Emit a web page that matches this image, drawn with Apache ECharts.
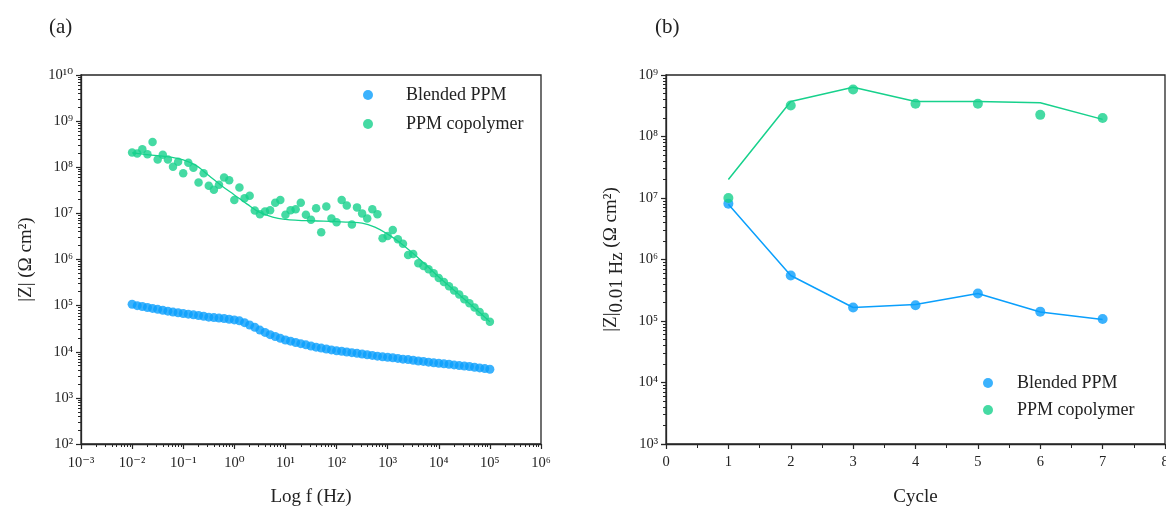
<!DOCTYPE html>
<html>
<head>
<meta charset="utf-8">
<script src="https://cdn.jsdelivr.net/npm/echarts@6/dist/echarts.min.js"></script>
<style>html,body{margin:0;padding:0;background:#fff}#c{width:1166px;height:512px}</style>
</head>
<body>
<div id="c"></div>
<script>
// ---------- Data (a): log10 values ----------
const logFreq = [-2.0,-1.9,-1.8,-1.7,-1.6,-1.5,-1.4,-1.3,-1.2,-1.1,-1.0,-0.9,-0.8,-0.7,-0.6,-0.5,-0.4,-0.3,-0.2,-0.1,
  0.0,0.1,0.2,0.3,0.4,0.5,0.6,0.7,0.8,0.9,1.0,1.1,1.2,1.3,1.4,1.5,1.6,1.7,1.8,1.9,
  2.0,2.1,2.2,2.3,2.4,2.5,2.6,2.7,2.8,2.9,3.0,3.1,3.2,3.3,3.4,3.5,3.6,3.7,3.8,3.9,
  4.0,4.1,4.2,4.3,4.4,4.5,4.6,4.7,4.8,4.9,5.0];
const blendedLogZ = [5.03,5.00,4.98,4.96,4.94,4.92,4.90,4.88,4.86,4.845,4.83,4.815,4.80,4.785,4.77,4.75,4.74,4.73,4.72,4.705,
  4.69,4.67,4.63,4.58,4.53,4.47,4.42,4.37,4.33,4.29,4.255,4.23,4.20,4.175,4.15,4.125,4.10,4.08,4.06,4.04,
  4.02,4.01,3.995,3.98,3.965,3.95,3.935,3.92,3.905,3.89,3.88,3.87,3.855,3.84,3.83,3.815,3.80,3.79,3.775,3.76,
  3.75,3.74,3.73,3.715,3.70,3.69,3.68,3.665,3.65,3.635,3.62];
const copolymerLogZ = [8.32,8.30,8.39,8.28,8.55,8.17,8.27,8.17,8.01,8.12,7.87,8.10,7.99,7.67,7.87,7.60,7.51,7.62,7.78,7.72,
  7.29,7.56,7.33,7.38,7.06,6.98,7.04,7.07,7.23,7.29,6.97,7.07,7.09,7.23,6.97,6.86,7.11,6.59,7.15,6.89,
  6.81,7.29,7.17,6.76,7.13,7.00,6.89,7.09,6.98,6.46,6.51,6.64,6.44,6.34,6.10,6.12,5.92,5.86,5.79,5.70,
  5.60,5.51,5.42,5.33,5.24,5.14,5.05,4.96,4.86,4.76,4.65];
const fitLogFreq = [-2.0,-1.75,-1.5,-1.25,-1.0,-0.75,-0.5,-0.25,0.0,0.25,0.5,0.75,1.0,1.25,1.5,1.75,2.0,2.25,2.5,2.75,3.0,3.25,3.5,3.75,4.0,4.25,4.5,4.75,5.0];
const copolymerFitLogZ = [8.31,8.28,8.25,8.22,8.16,8.04,7.82,7.60,7.40,7.20,7.02,6.92,6.87,6.85,6.84,6.83,6.82,6.81,6.79,6.70,6.55,6.36,6.13,5.88,5.62,5.38,5.14,4.90,4.65];

// ---------- Data (b) ----------
const cycles = [1,2,3,4,5,6,7];
const blendedCycleZ = [8.1e6,5.5e5,1.66e5,1.8e5,2.8e5,1.42e5,1.08e5];
const copolymerCycleZ = [1.0e7,3.2e8,5.8e8,3.4e8,3.4e8,2.25e8,2.0e8];
const blendedCycleFit = [7.9e6,5.5e5,1.66e5,1.85e5,2.8e5,1.4e5,1.06e5];
const copolymerCycleFit = [2.0e7,3.7e8,6.3e8,3.7e8,3.7e8,3.55e8,1.9e8];

const names = ['Blended PPM','PPM copolymer'];
const BLUE = '#0a9ffc', GREEN = '#17d18c';
const FONT = '"Liberation Serif", "DejaVu Serif", serif';
const AX = '#262626';

const SUP = {'0':'⁰','1':'¹','2':'²','3':'³','4':'⁴','5':'⁵','6':'⁶','7':'⁷','8':'⁸','9':'⁹','-':'⁻'};
function powLabel(v){
  const e = Math.round(Math.log10(v));
  return '10' + String(e).split('').map(c => SUP[c]).join('');
}
const pw = arr => arr.map(x => Math.pow(10, x));
const pairs = (xs, ys) => xs.map((x, i) => [x, ys[i]]);

const freq = pw(logFreq), fitFreq = pw(fitLogFreq);

const axisCommon = {
  axisLine: {show: true, lineStyle: {color: AX, width: 1.3}},
  axisTick: {show: true, length: 5, lineStyle: {color: AX, width: 1.2}},
  minorTick: {show: true, length: 3, lineStyle: {color: AX, width: 1}},
  splitLine: {show: false},
  nameLocation: 'middle',
  nameTextStyle: {fontFamily: FONT, fontSize: 19, color: '#222'},
};
const labelCommon = {fontFamily: FONT, fontSize: 14.5, color: '#222'};

const option = {
  animation: false,
  backgroundColor: '#fff',
  title: [
    {text: '(a)', left: 44, top: 12, textStyle: {fontFamily: FONT, fontSize: 21, fontWeight: 'normal', color: '#222'}},
    {text: '(b)', left: 650, top: 12, textStyle: {fontFamily: FONT, fontSize: 21, fontWeight: 'normal', color: '#222'}}
  ],
  grid: [
    {left: 81, right: 625, top: 75, bottom: 68, show: true, borderColor: AX, borderWidth: 1.3,
     backgroundColor: 'transparent', containLabel: false, outerBoundsMode: 'none'},
    {left: 666, right: 1, top: 75, bottom: 68, show: true, borderColor: AX, borderWidth: 1.3,
     backgroundColor: 'transparent', containLabel: false, outerBoundsMode: 'none'}
  ],
  legend: [
    {data: names, orient: 'vertical', left: 363, top: 86, padding: 0, itemWidth: 10, itemHeight: 10, itemGap: 11, icon: 'circle',
     textStyle: {fontFamily: FONT, fontSize: 18, color: '#222', lineHeight: 18, padding: [0,0,0,28]}},
    {data: names.map(n => n + ' '), orient: 'vertical', left: 983, top: 374, padding: 0, itemWidth: 10, itemHeight: 10, itemGap: 9, icon: 'circle',
     formatter: n => n.trim(),
     textStyle: {fontFamily: FONT, fontSize: 18, color: '#222', lineHeight: 18, padding: [0,0,0,19]}}
  ],
  xAxis: [
    Object.assign({}, axisCommon, {
      gridIndex: 0, type: 'log', logBase: 10, min: 1e-3, max: 1e6,
      minorTick: {show: true, splitNumber: 9, length: 3, lineStyle: {color: AX, width: 1}},
      name: 'Log f (Hz)', nameGap: 44,
      axisLabel: Object.assign({}, labelCommon, {margin: 12, formatter: powLabel})
    }),
    Object.assign({}, axisCommon, {
      gridIndex: 1, type: 'value', min: 0, max: 8, interval: 1,
      minorTick: {show: true, splitNumber: 2, length: 4, lineStyle: {color: AX, width: 1}},
      name: 'Cycle', nameGap: 44,
      axisLabel: Object.assign({}, labelCommon, {margin: 11, showMaxLabel: true})
    })
  ],
  yAxis: [
    Object.assign({}, axisCommon, {
      gridIndex: 0, type: 'log', logBase: 10, min: 1e2, max: 1e10,
      minorTick: {show: true, splitNumber: 9, length: 3, lineStyle: {color: AX, width: 1}},
      name: '|Z| (Ω cm²)', nameGap: 45,
      axisLabel: Object.assign({}, labelCommon, {margin: 8, formatter: powLabel})
    }),
    Object.assign({}, axisCommon, {
      gridIndex: 1, type: 'log', logBase: 10, min: 1e3, max: 1e9,
      minorTick: {show: true, splitNumber: 9, length: 3, lineStyle: {color: AX, width: 1}},
      name: '{m||Z|}{s|0.01 Hz}{m| (Ω cm²)}', nameGap: 45,
      nameTextStyle: {fontFamily: FONT, fontSize: 19, color: '#222',
        rich: {m: {fontFamily: FONT, fontSize: 19, color: '#222', lineHeight: 19, verticalAlign: 'top'},
               s: {fontFamily: FONT, fontSize: 19, color: '#222', lineHeight: 19, verticalAlign: 'top', padding: [6,0,0,0]}}},
      axisLabel: Object.assign({}, labelCommon, {margin: 8, formatter: powLabel})
    })
  ],
  series: [
    {name: names[0], type: 'scatter', xAxisIndex: 0, yAxisIndex: 0, symbolSize: 9,
     itemStyle: {color: BLUE}, data: pairs(freq, pw(blendedLogZ))},
    {name: names[1], type: 'scatter', xAxisIndex: 0, yAxisIndex: 0, symbolSize: 8.5,
     itemStyle: {color: GREEN}, data: pairs(freq, pw(copolymerLogZ))},
    {name: 'fit-a', type: 'line', xAxisIndex: 0, yAxisIndex: 0, smooth: 0.4, showSymbol: false, symbol: 'none',
     lineStyle: {color: GREEN, width: 1.3}, data: pairs(fitFreq, pw(copolymerFitLogZ)), z: 1},
    {name: 'fit-b1', type: 'line', xAxisIndex: 1, yAxisIndex: 1, symbol: 'none',
     lineStyle: {color: BLUE, width: 1.5}, data: pairs(cycles, blendedCycleFit), z: 1},
    {name: 'fit-b2', type: 'line', xAxisIndex: 1, yAxisIndex: 1, symbol: 'none',
     lineStyle: {color: GREEN, width: 1.5}, data: pairs(cycles, copolymerCycleFit), z: 1},
    {name: names[0] + ' ', type: 'scatter', xAxisIndex: 1, yAxisIndex: 1, symbolSize: 10,
     itemStyle: {color: BLUE}, data: pairs(cycles, blendedCycleZ)},
    {name: names[1] + ' ', type: 'scatter', xAxisIndex: 1, yAxisIndex: 1, symbolSize: 10,
     itemStyle: {color: GREEN}, data: pairs(cycles, copolymerCycleZ)}
  ]
};
const chart = echarts.init(document.getElementById('c'), null, {renderer: 'canvas'});
chart.setOption(option);
</script>
</body>
</html>
